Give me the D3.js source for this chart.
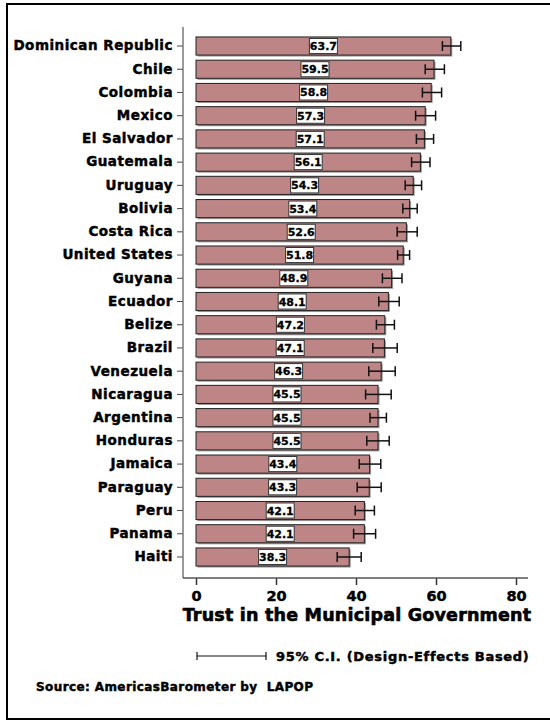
<!DOCTYPE html>
<html>
<head>
<meta charset="utf-8">
<script src="https://cdn.jsdelivr.net/npm/d3@7"></script>
<style>
  body { margin: 0; background: #fff; }
  svg { display: block; }
  text { font-family: "DejaVu Sans", sans-serif; font-weight: bold; fill: #000; }
  .heavy { stroke: #000; stroke-width: 0.45px; }
</style>
</head>
<body>
<div id="chart"></div>
<script>
// values
const countries = ['Dominican Republic', 'Chile', 'Colombia', 'Mexico', 'El Salvador',
  'Guatemala', 'Uruguay', 'Bolivia', 'Costa Rica', 'United States', 'Guyana', 'Ecuador',
  'Belize', 'Brazil', 'Venezuela', 'Nicaragua', 'Argentina', 'Honduras', 'Jamaica',
  'Paraguay', 'Peru', 'Panama', 'Haiti'];
const trust = [63.7, 59.5, 58.8, 57.3, 57.1, 56.1, 54.3, 53.4, 52.6, 51.8, 48.9, 48.1,
  47.2, 47.1, 46.3, 45.5, 45.5, 45.5, 43.4, 43.3, 42.1, 42.1, 38.3];
const ciLow = [61.6, 57.3, 56.6, 54.9, 55.1, 53.9, 52.3, 51.7, 50.3, 50.4, 46.6, 45.7,
  45.1, 44.2, 43.2, 42.4, 43.5, 42.7, 40.8, 40.3, 39.8, 39.4, 35.3];
const ciHigh = [66.2, 62.1, 61.4, 59.9, 59.4, 58.5, 56.4, 55.3, 55.3, 53.4, 51.5, 50.8,
  49.6, 50.3, 49.8, 48.8, 47.6, 48.3, 46.2, 46.3, 44.6, 44.9, 41.3];
const xTicks = [0, 20, 40, 60, 80];

const W = 550, H = 721;
const svg = d3.select('#chart').append('svg')
  .attr('width', W)
  .attr('height', H);

// page frame (right edge runs off the picture)
svg.append('rect')
  .attr('x', 7).attr('y', 4)
  .attr('width', 560).attr('height', 715)
  .attr('fill', 'none')
  .attr('stroke', '#000')
  .attr('stroke-width', 2);

const x = d3.scaleLinear().domain([0, 80]).range([196, 516]);
const y = d3.scaleBand().domain(countries).range([34.4, 568.6])
  .paddingInner(0.22).paddingOuter(0.11);

const axisLeft = 183, axisBottom = 578;

// bars with a faint shadow
const rows = svg.append('g').selectAll('g')
  .data(countries)
  .join('g');

rows.append('rect')
  .attr('x', x(0) + 1.5)
  .attr('y', d => y(d) + 1.5)
  .attr('width', (d, i) => x(trust[i]) - x(0))
  .attr('height', y.bandwidth())
  .attr('fill', '#9a9a9a');

rows.append('rect')
  .attr('x', x(0))
  .attr('y', d => y(d))
  .attr('width', (d, i) => x(trust[i]) - x(0))
  .attr('height', y.bandwidth())
  .attr('fill', '#bd8585')
  .attr('stroke', '#222')
  .attr('stroke-width', 1);

// error bars
const eb = rows.append('g')
  .attr('stroke', '#111')
  .attr('stroke-width', 1.5);
eb.append('line')
  .attr('x1', (d, i) => x(ciLow[i]))
  .attr('x2', (d, i) => x(ciHigh[i]))
  .attr('y1', d => y(d) + y.bandwidth() / 2)
  .attr('y2', d => y(d) + y.bandwidth() / 2);
eb.append('line')
  .attr('x1', (d, i) => x(ciLow[i]))
  .attr('x2', (d, i) => x(ciLow[i]))
  .attr('y1', d => y(d) + y.bandwidth() / 2 - 5)
  .attr('y2', d => y(d) + y.bandwidth() / 2 + 5);
eb.append('line')
  .attr('x1', (d, i) => x(ciHigh[i]))
  .attr('x2', (d, i) => x(ciHigh[i]))
  .attr('y1', d => y(d) + y.bandwidth() / 2 - 5)
  .attr('y2', d => y(d) + y.bandwidth() / 2 + 5);

// value labels in white boxes at mid bar
rows.append('rect')
  .attr('x', (d, i) => x(trust[i] / 2) - 14)
  .attr('y', d => y(d) + 1.5)
  .attr('width', 28)
  .attr('height', y.bandwidth() - 3)
  .attr('fill', '#fff')
  .attr('stroke', '#333')
  .attr('stroke-width', 1);
rows.append('text')
  .attr('class', 'heavy')
  .attr('x', (d, i) => x(trust[i] / 2))
  .attr('y', d => y(d) + y.bandwidth() / 2 + 4)
  .attr('text-anchor', 'middle')
  .style('font-size', '11px')
  .style('stroke-width', '0.3px')
  .text((d, i) => trust[i].toFixed(1));

// y axis
const yAxis = svg.append('g')
  .attr('transform', `translate(${axisLeft},0)`)
  .call(d3.axisLeft(y).tickSize(6).tickPadding(4));
yAxis.select('.domain').remove();
yAxis.selectAll('.tick line').attr('stroke', '#444');
yAxis.selectAll('.tick text')
  .attr('class', 'heavy')
  .style('font-size', '13.5px')
  .style('letter-spacing', '0.5px')
  .style('font-family', '"DejaVu Sans", sans-serif')
  .style('font-weight', 'bold')
  .attr('fill', '#000');
svg.append('line')
  .attr('x1', axisLeft).attr('x2', axisLeft)
  .attr('y1', 27).attr('y2', axisBottom)
  .attr('stroke', '#777').attr('stroke-width', 1.5);

// x axis
const xAxis = svg.append('g')
  .attr('transform', `translate(0,${axisBottom})`)
  .call(d3.axisBottom(x).tickValues(xTicks).tickSize(7).tickPadding(6).tickFormat(d3.format('d')));
xAxis.select('.domain').remove();
xAxis.selectAll('.tick line').attr('stroke', '#333').attr('stroke-width', 1.5);
xAxis.selectAll('.tick text')
  .attr('class', 'heavy')
  .style('font-size', '14.5px')
  .style('font-family', '"DejaVu Sans", sans-serif')
  .style('font-weight', 'bold')
  .attr('fill', '#000');
svg.append('line')
  .attr('x1', axisLeft).attr('x2', 528)
  .attr('y1', axisBottom).attr('y2', axisBottom)
  .attr('stroke', '#555').attr('stroke-width', 1.5);

svg.append('text')
  .attr('class', 'heavy')
  .attr('x', 357).attr('y', 621)
  .attr('text-anchor', 'middle')
  .style('font-size', '17.5px')
  .style('letter-spacing', '0.2px')
  .style('stroke-width', '0.6px')
  .text('Trust in the Municipal Government');

// legend for the error bars
const leg = svg.append('g').attr('stroke', '#111').attr('stroke-width', 1.2);
leg.append('line').attr('x1', 197).attr('x2', 266).attr('y1', 656).attr('y2', 656);
leg.append('line').attr('x1', 197).attr('x2', 197).attr('y1', 652).attr('y2', 660);
leg.append('line').attr('x1', 266).attr('x2', 266).attr('y1', 652).attr('y2', 660);
svg.append('text')
  .attr('class', 'heavy')
  .attr('x', 276).attr('y', 661)
  .style('font-size', '13px')
  .style('letter-spacing', '0.7px')
  .text('95% C.I. (Design-Effects Based)');

svg.append('text')
  .attr('class', 'heavy')
  .attr('x', 36).attr('y', 691)
  .style('font-size', '12px')
  .style('letter-spacing', '0.4px')
  .style('white-space', 'pre')
  .text('Source: AmericasBarometer by  LAPOP');
</script>
</body>
</html>
